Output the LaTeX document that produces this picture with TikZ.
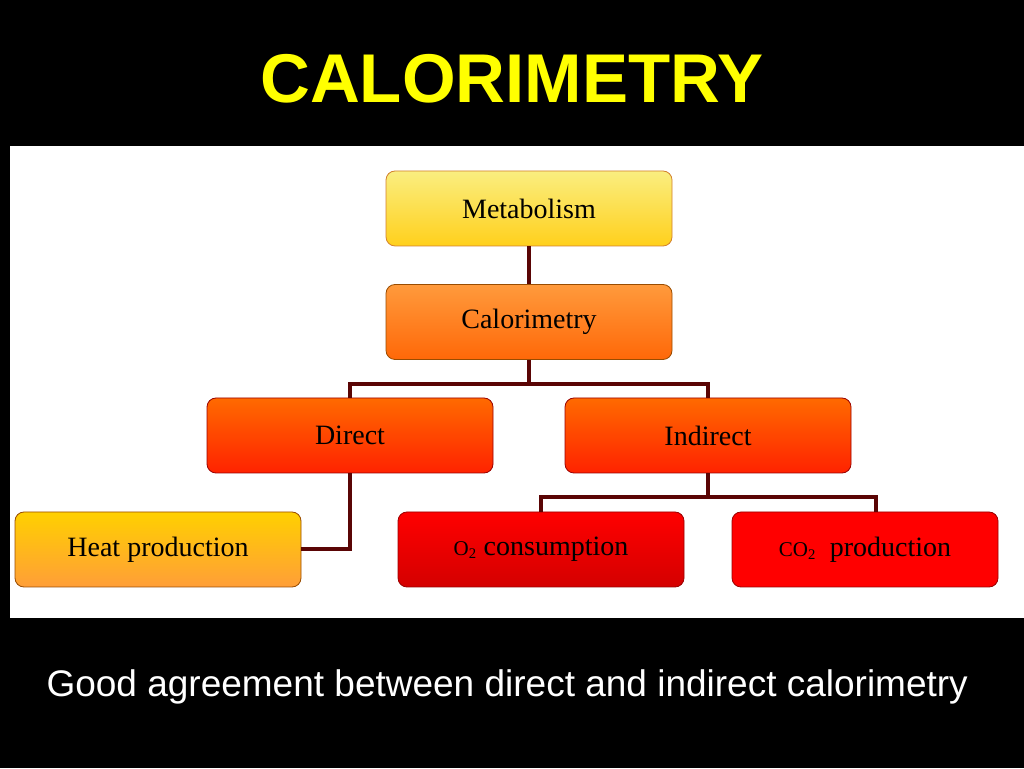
\documentclass[tikz,border=0pt]{standalone}
\usepackage{fontspec}
\setmainfont{Liberation Serif}
\newfontfamily\headfont{Liberation Sans}
\definecolor{linkred}{HTML}{5A0505}
\definecolor{titleyellow}{HTML}{FFFF00}
\tikzset{
  box/.style={draw=#1, line width=0.8pt, rounded corners=9pt, minimum width=286pt,
    minimum height=75pt, inner sep=0pt, font=\fontsize{28}{32}\selectfont},
  link/.style={draw=linkred, line width=4pt},
}
\begin{document}
\begin{tikzpicture}[x=1pt,y=1pt]
\useasboundingbox (0,0) rectangle (1024,768);
\fill[black] (0,0) rectangle (1024,768);
\fill[white] (10,150) rectangle (1024,622);
\node (title) at (512,689) {\headfont\bfseries\fontsize{69}{72}\selectfont\color{titleyellow}CALORIMETRY};
% boxes
\node[box={brown!70!orange}, top color={rgb,255:red,250;green,238;blue,128}, bottom color={rgb,255:red,255;green,208;blue,28}] (meta) at (529,559.5) {Metabolism};
\node[box={orange!60!black}, top color={rgb,255:red,255;green,154;blue,60}, bottom color={rgb,255:red,255;green,104;blue,8}] (calo) at (529,446) {Calorimetry};
\node[box={red!60!black}, top color={rgb,255:red,255;green,106;blue,0}, bottom color={rgb,255:red,255;green,34;blue,0}] (direct) at (350,332.5) {Direct};
\node[box={red!60!black}, top color={rgb,255:red,255;green,106;blue,0}, bottom color={rgb,255:red,255;green,34;blue,0}] (indirect) at (708,332.5) {Indirect};
\node[box={orange!60!black}, top color={rgb,255:red,255;green,208;blue,0}, bottom color={rgb,255:red,255;green,158;blue,56}] (heat) at (158,218.5) {Heat production};
\node[box={red!60!black}, top color={rgb,255:red,255;green,0;blue,0}, bottom color={rgb,255:red,212;green,0;blue,0}] (otwo) at (541,218.5) {{\fontsize{21}{24}\selectfont O\textsubscript{2}} consumption};
\node[box={red!60!black}, minimum width=266pt, fill={rgb,255:red,255;green,0;blue,0}] (cotwo) at (865,218.5) {\raisebox{2pt}{{\fontsize{21}{24}\selectfont CO\textsubscript{2}}\ \ production}};
% connectors
\draw[link] (meta.south) -- (calo.north);
\draw[link] (calo.south) -- ++(0,-24) -| (direct.north);
\draw[link] (calo.south) -- ++(0,-24) -| (indirect.north);
\draw[link] (direct.south) |- (heat.east);
\draw[link] (indirect.south) -- ++(0,-24) -| (otwo.north);
\draw[link] (indirect.south) -- ++(0,-24) -| ([xshift=11pt]cotwo.north);
\node[anchor=west, text=white, font=\headfont\fontsize{37}{40}\selectfont] (note) at (43,81) {Good agreement between direct and indirect calorimetry};
\end{tikzpicture}
\end{document}
